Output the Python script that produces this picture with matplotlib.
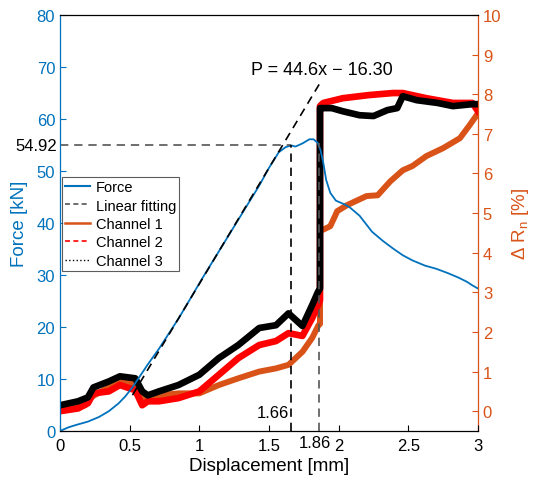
import matplotlib
matplotlib.use("Agg")
import matplotlib.pyplot as plt
from matplotlib.lines import Line2D
import numpy as np

plt.rcParams['font.family'] = ['Liberation Sans', 'DejaVu Sans']
plt.rcParams['mathtext.fontset'] = 'custom'
plt.rcParams['mathtext.rm'] = 'Liberation Sans'

BLUE = '#0072BD'
ORANGE = '#D95319'

# ---- data ----
force_x = [0, 0.06, 0.12, 0.2, 0.28, 0.35, 0.42, 0.47, 0.52, 0.56, 0.63, 0.71, 0.78, 0.85, 0.93,
           1.02, 1.43, 1.5, 1.57, 1.62, 1.66, 1.69, 1.74, 1.79, 1.82, 1.85, 1.87, 1.89, 1.91, 1.94,
           1.98, 2.04, 2.08, 2.15, 2.24, 2.32, 2.39, 2.46, 2.53, 2.62, 2.70, 2.78, 2.86, 2.92, 2.96, 3.0]
force_y = [0, 0.7, 1.2, 1.8, 2.7, 3.8, 5.3, 6.7, 8.4, 10.0, 12.8, 15.8, 18.7, 21.6, 25.2,
           29.3, 47.2, 50.6, 53.6, 54.6, 54.92, 54.7, 55.3, 56.1, 56.1, 55.4, 54.0, 51.5, 48.3, 45.8,
           44.3, 43.6, 43.0, 41.4, 38.3, 36.5, 35.1, 33.8, 32.8, 31.8, 31.2, 30.4, 29.5, 28.7, 28.0, 27.4]

fit_slope = 44.6
fit_intercept = -16.30
fit_x = [0.52, 1.86]

ch1_x = [0, 0.13, 0.18, 0.22, 0.35, 0.43, 0.5, 0.54, 0.59, 0.63, 0.71, 0.85, 1.0, 1.14, 1.28, 1.43, 1.55,
         1.64, 1.74, 1.81, 1.855, 1.866, 1.866, 1.90, 1.94, 1.99, 2.06, 2.2, 2.28, 2.37, 2.46, 2.53,
         2.63, 2.75, 2.87, 2.94, 3.0]
ch1_y = [0.05, 0.1, 0.15, 0.35, 0.6, 0.75, 0.72, 0.65, 0.3, 0.4, 0.4, 0.45, 0.45, 0.66, 0.83, 1.0, 1.08,
         1.17, 1.5, 1.85, 2.17, 2.2, 4.55, 4.6, 4.67, 5.05, 5.2, 5.43, 5.45, 5.8, 6.08, 6.19,
         6.44, 6.64, 6.89, 7.22, 7.52]

ch2_x = [0, 0.13, 0.2, 0.24, 0.35, 0.43, 0.54, 0.59, 0.63, 0.71, 0.85, 1.0, 1.14, 1.28, 1.43, 1.55,
         1.64, 1.74, 1.81, 1.855, 1.866, 1.866, 1.89, 2.03, 2.22, 2.39, 2.46, 2.63, 2.82, 2.96, 3.0]
ch2_y = [0.0, 0.07, 0.2, 0.45, 0.5, 0.66, 0.53, 0.15, 0.25, 0.25, 0.33, 0.5, 0.92, 1.34, 1.67, 1.77,
         1.97, 1.9, 2.35, 2.7, 2.8, 7.7, 7.78, 7.9, 7.98, 8.03, 8.03, 7.9, 7.78, 7.78, 7.57]

ch3_x = [0, 0.13, 0.2, 0.24, 0.35, 0.43, 0.54, 0.59, 0.63, 0.71, 0.85, 1.0, 1.14, 1.28, 1.43, 1.55,
         1.64, 1.74, 1.81, 1.85, 1.866, 1.866, 1.88, 1.95, 2.03, 2.15, 2.25, 2.35, 2.42, 2.46,
         2.56, 2.71, 2.82, 2.96, 3.0]
ch3_y = [0.15, 0.25, 0.35, 0.6, 0.75, 0.88, 0.83, 0.5, 0.4, 0.5, 0.66, 0.92, 1.34, 1.67, 2.1, 2.17,
         2.47, 2.15, 2.68, 3.0, 3.1, 7.65, 7.65, 7.65, 7.57, 7.47, 7.45, 7.6, 7.65, 7.95,
         7.85, 7.78, 7.7, 7.75, 7.75]

x_ticks = [0, 0.5, 1, 1.5, 2, 2.5, 3]
x_tick_labels = ['0', '0.5', '1', '1.5', '2', '2.5', '3']
left_ticks = [0, 10, 20, 30, 40, 50, 60, 70, 80]
right_ticks = [0, 1, 2, 3, 4, 5, 6, 7, 8, 9, 10]

peak_x = 1.66
peak_force = 54.92
break_x = 1.86
break_force = 55.3

# ---- figure ----
fig = plt.figure(figsize=(5.36, 4.81), dpi=100)
ax = fig.add_axes([60 / 536, 49 / 481, 418 / 536, 416 / 481])
ax2 = ax.twinx()
ax.set_zorder(ax2.get_zorder() + 1)
ax.patch.set_visible(False)

# channels on right axis
ax2.plot(ch1_x, ch1_y, color=ORANGE, lw=4.3, solid_joinstyle='round')
ax2.plot(ch2_x, ch2_y, color='#FF0000', lw=4.8, solid_joinstyle='round')
ax2.plot(ch3_x, ch3_y, color='black', lw=4.8, solid_joinstyle='round')
ax2.set_ylim(-0.5, 10)
ax2.set_yticks(right_ticks)

# force on left axis
ax.plot(force_x, force_y, color=BLUE, lw=1.3)
fx = np.array(fit_x)
ax.plot(fx, fit_slope * fx + fit_intercept, color='black', lw=1.2, dashes=(5, 3.5))
ax.plot([0, peak_x], [peak_force, peak_force], color='#555555', lw=1.2, dashes=(5, 3.5))
ax.plot([peak_x, peak_x], [0, peak_force], color='black', lw=1.2, dashes=(5, 3.5))
ax.plot([break_x, break_x], [0, break_force], color='#555555', lw=1.2, dashes=(5, 3.5))

ax.set_xlim(0, 3)
ax.set_ylim(0, 80)
ax.set_xticks(x_ticks)
ax.set_xticklabels(x_tick_labels)
ax.set_yticks(left_ticks)

# styling
for a in (ax, ax2):
    a.tick_params(direction='in', length=4, width=0.8, labelsize=12)
ax.tick_params(axis='y', colors=BLUE)
ax.tick_params(axis='x', colors='black', pad=5)
ax2.tick_params(axis='y', colors=ORANGE)
ax.spines['left'].set_color(BLUE)
ax.spines['right'].set_visible(False)
ax2.spines['right'].set_color(ORANGE)
ax2.spines['left'].set_visible(False)
ax2.spines['top'].set_visible(False)
ax2.spines['bottom'].set_visible(False)
for s in ax.spines.values():
    s.set_linewidth(0.9)
ax2.spines['right'].set_linewidth(0.9)

ax.set_xlabel('Displacement [mm]', fontsize=13.5, labelpad=3)
ax.set_ylabel('Force [kN]', fontsize=13.5, color=BLUE, labelpad=6)
ax2.set_ylabel(r'Δ R$_\mathregular{n}$ [%]', fontsize=13.5, color=ORANGE, labelpad=6)

# annotations
ax.text(1.88, 69.6, 'P = 44.6x \u2212 16.30', fontsize=13, ha='center', va='center')
ax.text(-0.02, peak_force, '54.92', fontsize=12, ha='right', va='center', color='black')
ax.text(1.645, 3.6, '1.66', fontsize=12, ha='right', va='center')
ax.annotate('1.86', xy=(1.83, -0.028), xycoords=('data', 'axes fraction'),
            fontsize=12, ha='center', va='center', annotation_clip=False)

handles = [
    Line2D([], [], color=BLUE, lw=1.5),
    Line2D([], [], color='#555555', lw=1.2, dashes=(3, 2)),
    Line2D([], [], color=ORANGE, lw=1.8),
    Line2D([], [], color='#FF0000', lw=1.2, dashes=(3, 2)),
    Line2D([], [], color='black', lw=1.0, ls=':'),
]
labels = ['Force', 'Linear fitting', 'Channel 1', 'Channel 2', 'Channel 3']
leg = ax.legend(handles, labels, loc='upper left', bbox_to_anchor=(0.005, 0.61),
                borderaxespad=0, fontsize=10.5, frameon=True, fancybox=False,
                handlelength=1.7, handletextpad=0.4, labelspacing=0.3,
                borderpad=0.2, edgecolor='#333333')
leg.get_frame().set_linewidth(0.8)

fig.savefig('out.png', dpi=100)
